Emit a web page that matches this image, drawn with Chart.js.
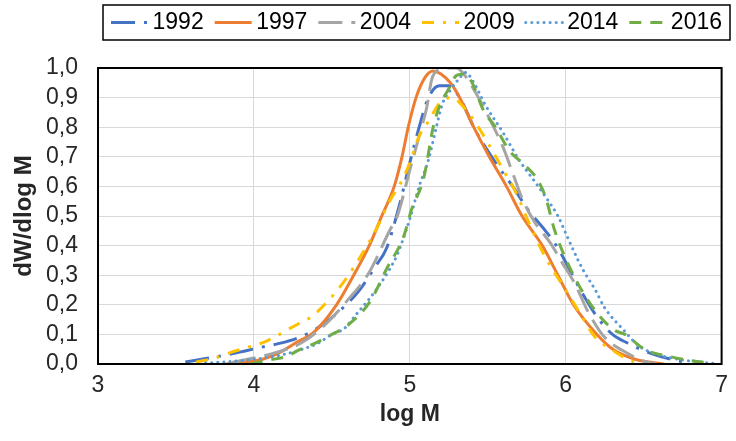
<!DOCTYPE html>
<html>
<head>
<meta charset="utf-8">
<script src="https://cdn.jsdelivr.net/npm/chart.js@4.4.1/dist/chart.umd.min.js"></script>
<style>
  html, body { margin: 0; padding: 0; background: #fff; }
  #wrap { width: 736px; height: 441px; }
</style>
</head>
<body>
<div id="wrap"><canvas id="grafico" width="736" height="441"></canvas></div>
<script>
// --- Datos (log M vs dW/dlog M) ---------------------------------------------
const anios = ['1992', '1997', '2004', '2009', '2014', '2016'];

const x1992 = [3.56, 3.71, 3.82, 3.95, 4.05, 4.15, 4.28, 4.41, 4.54, 4.67, 4.78, 4.85, 4.93, 5.0, 5.06, 5.12, 5.19, 5.25, 5.32, 5.42, 5.55, 5.66, 5.76, 5.87, 5.94, 6.1, 6.2, 6.3, 6.4, 6.55, 6.7, 6.8];
const y1992 = [0.007, 0.02, 0.03, 0.045, 0.057, 0.068, 0.088, 0.122, 0.175, 0.245, 0.33, 0.39, 0.53, 0.68, 0.8, 0.9, 0.94, 0.94, 0.9, 0.79, 0.68, 0.6, 0.52, 0.45, 0.4, 0.245, 0.16, 0.1, 0.07, 0.035, 0.013, 0.004];

const x1997 = [3.82, 3.95, 4.05, 4.15, 4.28, 4.38, 4.53, 4.64, 4.74, 4.82, 4.9, 4.95, 4.99, 5.04, 5.1, 5.15, 5.2, 5.26, 5.32, 5.41, 5.51, 5.62, 5.72, 5.85, 5.95, 6.05, 6.2, 6.31, 6.45, 6.63];
const y1997 = [0.0, 0.006, 0.015, 0.035, 0.075, 0.105, 0.2, 0.3, 0.4, 0.5, 0.6, 0.7, 0.8, 0.9, 0.97, 0.99, 0.98, 0.95, 0.9, 0.8, 0.7, 0.6, 0.5, 0.4, 0.3, 0.2, 0.1, 0.047, 0.015, 0.0];

const x2004 = [3.86, 4.0, 4.15, 4.3, 4.45, 4.6, 4.74, 4.87, 4.92, 5.0, 5.06, 5.11, 5.14, 5.19, 5.25, 5.3, 5.36, 5.44, 5.51, 5.6, 5.66, 5.72, 5.8, 5.9, 5.98, 6.06, 6.14, 6.25, 6.36, 6.5, 6.58];
const y2004 = [0.005, 0.02, 0.04, 0.07, 0.13, 0.215, 0.31, 0.45, 0.5, 0.655, 0.77, 0.87, 0.96, 0.995, 1.0, 1.0, 0.97, 0.9, 0.83, 0.73, 0.645, 0.56, 0.48, 0.41, 0.34, 0.27, 0.18, 0.09, 0.047, 0.01, 0.0];

const x2009 = [3.63, 3.75, 3.84, 3.97, 4.07, 4.13, 4.22, 4.3, 4.37, 4.47, 4.58, 4.68, 4.79, 4.87, 4.95, 5.0, 5.06, 5.12, 5.19, 5.27, 5.35, 5.44, 5.53, 5.6, 5.68, 5.77, 5.87, 6.0, 6.07, 6.19, 6.3, 6.4, 6.5];
const y2009 = [0.007, 0.02, 0.037, 0.058, 0.075, 0.09, 0.117, 0.14, 0.16, 0.21, 0.28, 0.36, 0.46, 0.55, 0.62, 0.68, 0.77, 0.82, 0.88, 0.9, 0.865, 0.8, 0.72, 0.655, 0.58, 0.47, 0.36, 0.25, 0.19, 0.09, 0.047, 0.015, 0.0];

const x2014 = [3.69, 3.95, 4.17, 4.3, 4.41, 4.5, 4.58, 4.66, 4.74, 4.81, 4.87, 4.92, 5.0, 5.06, 5.12, 5.17, 5.21, 5.26, 5.31, 5.36, 5.4, 5.49, 5.6, 5.7, 5.81, 5.89, 5.95, 6.01, 6.08, 6.12, 6.19, 6.25, 6.38, 6.44, 6.49, 6.6, 6.68, 6.84, 6.95];
const y2014 = [0.003, 0.013, 0.03, 0.048, 0.07, 0.1, 0.12, 0.17, 0.22, 0.27, 0.32, 0.37, 0.49, 0.6, 0.69, 0.8, 0.88, 0.925, 0.96, 0.985, 0.96, 0.87, 0.78, 0.69, 0.61, 0.55, 0.5, 0.43, 0.35, 0.31, 0.25, 0.19, 0.11, 0.075, 0.054, 0.03, 0.02, 0.007, 0.002];

const x2016 = [3.98, 4.09, 4.2, 4.3, 4.39, 4.5, 4.6, 4.75, 4.85, 4.96, 5.01, 5.09, 5.15, 5.19, 5.25, 5.3, 5.35, 5.4, 5.47, 5.55, 5.64, 5.72, 5.81, 5.87, 5.93, 6.06, 6.19, 6.31, 6.38, 6.48, 6.52, 6.65, 6.8, 6.93];
const y2016 = [0.0, 0.013, 0.024, 0.05, 0.07, 0.1, 0.13, 0.215, 0.32, 0.43, 0.52, 0.63, 0.8, 0.87, 0.93, 0.975, 0.98, 0.95, 0.86, 0.8, 0.72, 0.68, 0.63, 0.565, 0.45, 0.29, 0.18, 0.115, 0.1, 0.058, 0.045, 0.027, 0.012, 0.003];

const xTicks = [3, 4, 5, 6, 7];

// --- Estilos por serie (paleta tipo Excel) ----------------------------------
const series = [
  { x: x1992, y: y1992, color: '#4472C4', dash: [24, 9, 3, 9], cap: 'butt' },
  { x: x1997, y: y1997, color: '#ED7D31', dash: [], cap: 'butt' },
  { x: x2004, y: y2004, color: '#A5A5A5', dash: [24, 9], cap: 'butt' },
  { x: x2009, y: y2009, color: '#FFC000', dash: [12, 9, 3, 9], cap: 'butt' },
  { x: x2014, y: y2014, color: '#5B9BD5', dash: [0.1, 6], cap: 'round' },
  { x: x2016, y: y2016, color: '#70AD47', dash: [12, 9], cap: 'butt' },
];

const FUENTE = 'Liberation Sans, Arial, sans-serif';
const LARGO_MUESTRA = 37; // largo de la línea de muestra en la leyenda

const datasets = series.map((s, i) => ({
  label: anios[i],
  data: s.x.map((v, k) => ({ x: v, y: s.y[k] })),
  showLine: true,
  borderColor: s.color,
  backgroundColor: s.color,
  borderWidth: 3,
  borderDash: s.dash,
  borderCapStyle: s.cap,
  pointRadius: 0,
  cubicInterpolationMode: 'monotone',
  order: anios.length - i, // la última serie queda encima, como en Excel
}));

// Marco negro del área de trazado + recuadro y muestras de la leyenda.
// (Chart.js no dibuja bien las líneas punteadas en la leyenda, así que las
// muestras se pintan aquí a mano sobre las cajas de la leyenda.)
const marco = {
  id: 'marco',
  beforeInit(chart) {
    const fit = chart.legend.fit;
    chart.legend.fit = function () { fit.call(this); this.height = 68; };
  },
  afterLayout(chart) {
    // la leyenda llega un poco más a la derecha que el área de trazado
    chart.legend.right += 5;
  },
  afterDraw(chart) {
    const { ctx, chartArea: a, legend } = chart;
    ctx.save();
    ctx.strokeStyle = '#000';
    ctx.lineWidth = 2;
    ctx.setLineDash([]);
    ctx.strokeRect(a.left, a.top, a.right - a.left, a.bottom - a.top);

    const cajas = legend.legendHitBoxes || [];
    const items = legend.legendItems || [];
    if (cajas.length) {
      const izq = Math.min(...cajas.map((b) => b.left)) - 8;
      const der = Math.max(...cajas.map((b) => b.left + b.width)) + 8;
      ctx.lineWidth = 1.5;
      ctx.strokeRect(izq, 5, der - izq, 35);
    }
    cajas.forEach((b, k) => {
      const s = series[items[k].datasetIndex];
      const y = b.top + b.height / 2;
      ctx.beginPath();
      ctx.strokeStyle = s.color;
      ctx.lineWidth = 3;
      ctx.lineCap = s.cap;
      ctx.setLineDash(s.dash);
      ctx.moveTo(b.left, y);
      ctx.lineTo(b.left + LARGO_MUESTRA, y);
      ctx.stroke();
    });
    ctx.restore();
  },
};

new Chart(document.getElementById('grafico'), {
  type: 'scatter',
  data: { datasets },
  plugins: [marco],
  options: {
    responsive: false,
    animation: false,
    layout: { padding: { left: 0, right: 8, top: 0, bottom: 0 } },
    plugins: {
      legend: {
        position: 'top',
        align: 'end',
        labels: {
          boxWidth: 30,
          boxHeight: 3,
          padding: 11,
          color: '#000',
          font: { family: FUENTE, size: 23 },
          sort: (p, q) => p.datasetIndex - q.datasetIndex,
          generateLabels: (chart) =>
            Chart.defaults.plugins.legend.labels.generateLabels(chart).map((it) => ({
              ...it, fillStyle: 'rgba(0,0,0,0)', strokeStyle: 'rgba(0,0,0,0)', lineWidth: 0,
            })),
        },
      },
      tooltip: { enabled: false },
    },
    scales: {
      x: {
        type: 'linear',
        min: 3,
        max: 7,
        afterBuildTicks: (s) => { s.ticks = xTicks.map((v) => ({ value: v })); },
        afterFit: (s) => { s.height = 77; },
        grid: { color: '#D9D9D9', drawTicks: false },
        border: { display: false },
        ticks: {
          padding: 8,
          color: '#262626',
          font: { family: FUENTE, size: 23 },
        },
        title: {
          display: true,
          text: 'log M',
          color: '#262626',
          padding: { top: 0, bottom: 13 },
          font: { family: FUENTE, size: 23, weight: 'bold' },
        },
      },
      y: {
        min: 0,
        max: 1,
        afterFit: (s) => { s.width = 98; },
        grid: { color: '#D9D9D9', drawTicks: false },
        border: { display: false },
        ticks: {
          stepSize: 0.1,
          autoSkip: false,
          padding: 20,
          color: '#262626',
          font: { family: FUENTE, size: 23 },
          callback: (v) => Number(v).toFixed(1).replace('.', ','),
        },
        title: {
          display: true,
          text: 'dW/dlog M',
          color: '#262626',
          padding: { top: 10, bottom: 0 },
          font: { family: FUENTE, size: 24, weight: 'bold' },
        },
      },
    },
  },
});
</script>
</body>
</html>
